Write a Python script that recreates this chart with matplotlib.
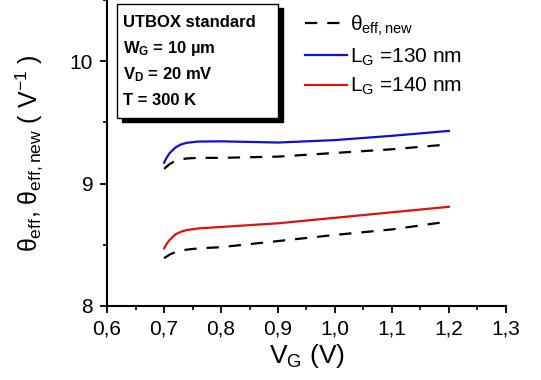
import matplotlib

matplotlib.use("Agg")
import matplotlib.pyplot as plt
from matplotlib.patches import Rectangle
from matplotlib.ticker import FuncFormatter, MultipleLocator

plt.rcParams["font.family"] = ["Liberation Sans", "DejaVu Sans"]
plt.rcParams["mathtext.fontset"] = "custom"
plt.rcParams["mathtext.rm"] = "Liberation Sans"
plt.rcParams["mathtext.it"] = "Liberation Sans"
plt.rcParams["mathtext.bf"] = "Liberation Sans:bold"

# values
vg = [0.70, 0.705, 0.71, 0.72, 0.73, 0.74, 0.76, 0.80, 0.90, 1.00, 1.10, 1.20]
theta_130 = [9.17, 9.215, 9.25, 9.295, 9.32, 9.333, 9.343, 9.345, 9.335, 9.355, 9.39, 9.43]
theta_new_130 = [9.12, 9.14, 9.16, 9.185, 9.198, 9.205, 9.21, 9.21, 9.22, 9.25, 9.28, 9.32]
theta_140 = [8.47, 8.51, 8.54, 8.585, 8.607, 8.62, 8.633, 8.645, 8.675, 8.72, 8.765, 8.81]
theta_new_140 = [8.39, 8.405, 8.42, 8.44, 8.452, 8.46, 8.47, 8.48, 8.53, 8.58, 8.625, 8.69]

box_lines = ["UTBOX standard", r"W$_\mathbf{G}$ = 10 µm",
             r"V$_\mathbf{D}$ = 20 mV", "T = 300 K"]

fig = plt.figure(figsize=(5.41, 3.80), dpi=100)
ax = fig.add_axes([0.198, 0.195, 0.737, 0.805])

ax.plot(vg, theta_new_130, color="black", lw=1.6, ls=(0, (5.5, 4.5)),
        label=r"$\theta_{\rm eff,new}$")
ax.plot(vg, theta_130, color="#1010d0", lw=1.6, label=r"L$_{\rm G}$ =130 nm")
ax.plot(vg, theta_140, color="#e01010", lw=1.6, label=r"L$_{\rm G}$ =140 nm")
ax.plot(vg, theta_new_140, color="black", lw=1.6, ls=(0, (5.5, 4.5)))

ax.set_xlim(0.6, 1.3)
ax.set_ylim(8, 10.5)
ax.xaxis.set_major_locator(MultipleLocator(0.1))
ax.xaxis.set_minor_locator(MultipleLocator(0.05))
ax.yaxis.set_major_locator(MultipleLocator(1))
ax.yaxis.set_minor_locator(MultipleLocator(0.5))
ax.xaxis.set_major_formatter(FuncFormatter(lambda v, p: f"{v:.1f}".replace(".", ",")))
ax.yaxis.set_major_formatter(FuncFormatter(lambda v, p: f"{v:.0f}"))
ax.tick_params(which="major", direction="out", length=5, width=1.3, labelsize=15,
               pad=5)
ax.tick_params(which="minor", direction="out", length=3, width=1.2)
for s in ("top", "right"):
    ax.spines[s].set_visible(False)
for s in ("left", "bottom"):
    ax.spines[s].set_linewidth(1.5)

ax.set_xlabel(r"V$_{\rm G}$ (V)", fontsize=19, labelpad=2)
ax.set_ylabel(r"$\theta_{\rm eff}$, $\theta_{\rm eff,new}$ ( V$^{-1}$ )",
              fontsize=18, labelpad=18)

# info box with drop shadow
ax.add_patch(Rectangle((0.037, 0.6), 0.404, 0.373, transform=ax.transAxes,
                       facecolor="black", edgecolor="black", zorder=4,
                       clip_on=False))
ax.add_patch(Rectangle((0.025, 0.614), 0.404, 0.373, transform=ax.transAxes,
                       facecolor="white", edgecolor="black", lw=1.0, zorder=5,
                       clip_on=False))
for i, line in enumerate(box_lines):
    ax.text(0.04, 0.928 - i * 0.086, line, transform=ax.transAxes,
            fontsize=12, fontweight="bold", va="center", zorder=6)

ax.legend(loc="upper left", bbox_to_anchor=(0.497, 0.955), frameon=False,
          fontsize=15, handlelength=2.0, handletextpad=0.15, labelspacing=0.4,
          borderaxespad=0, borderpad=0)

fig.savefig("out.png", dpi=100)
